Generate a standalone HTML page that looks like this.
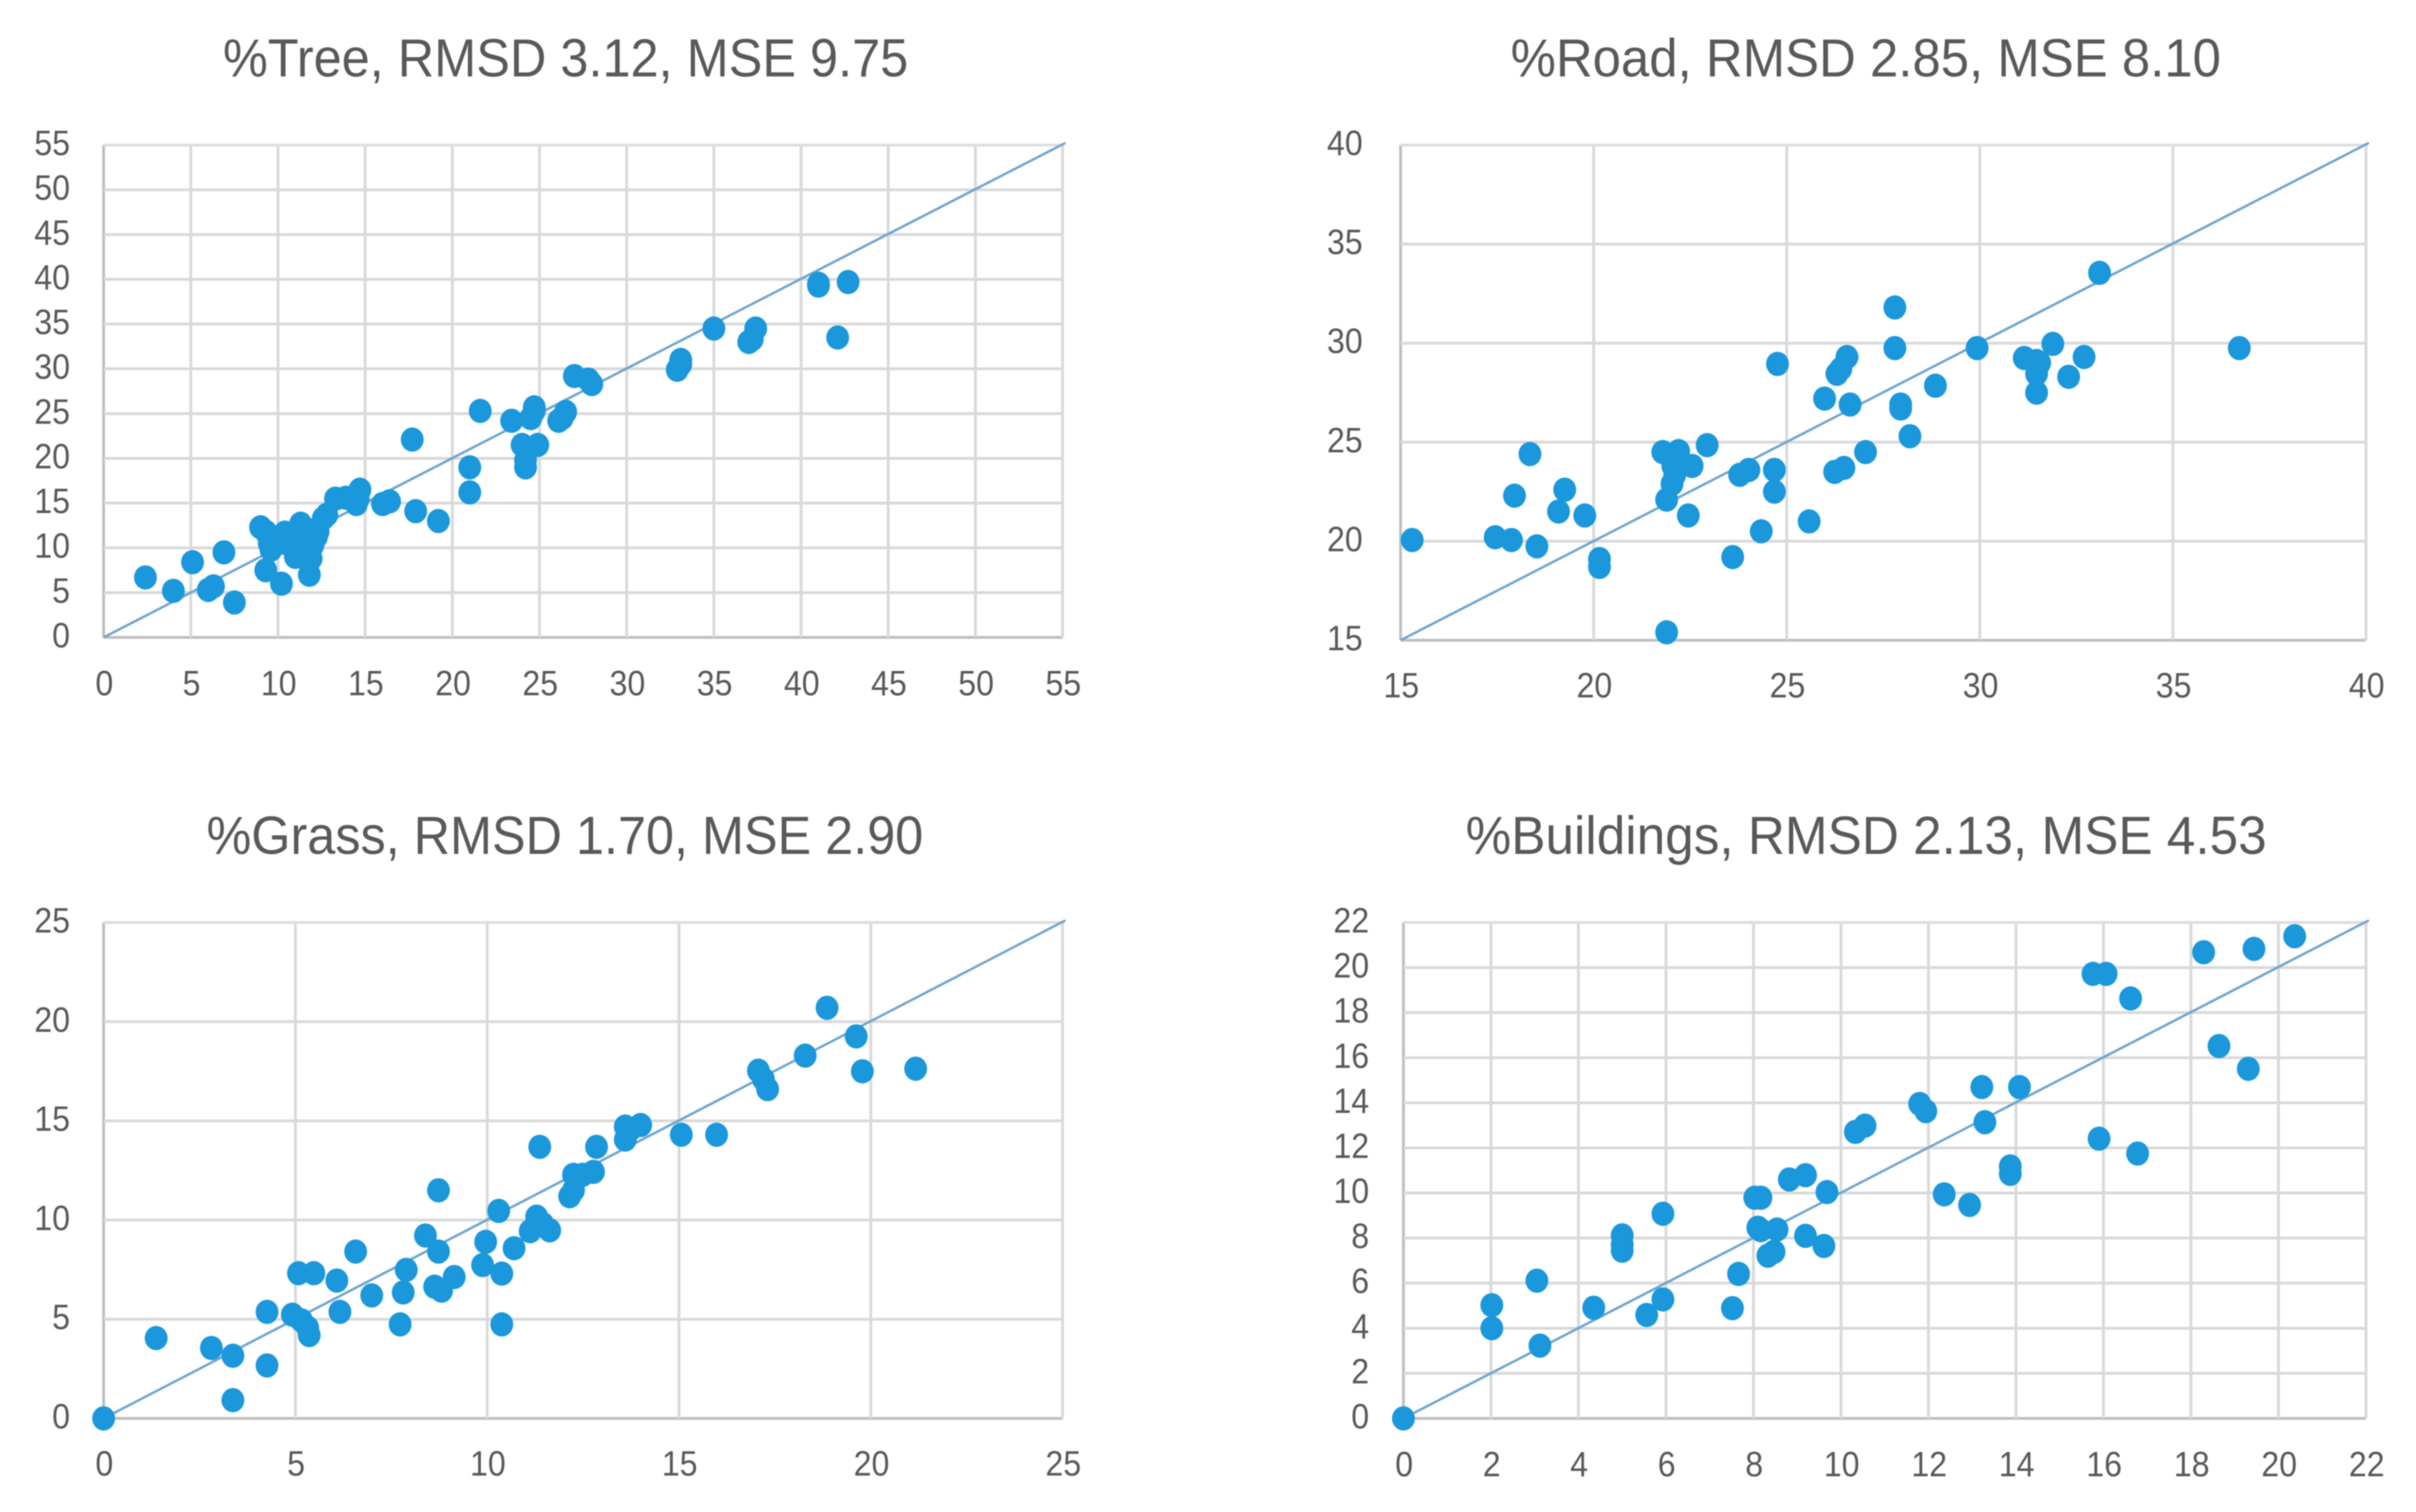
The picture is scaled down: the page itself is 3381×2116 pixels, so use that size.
<!DOCTYPE html>
<html lang="en">
<head>
<meta charset="utf-8">
<title>Scatter charts</title>
<style>
html,body{margin:0;padding:0;background:#fff;width:3381px;height:2116px;overflow:hidden}
svg{display:block;filter:blur(0.9px)}
text{font-family:"Liberation Sans",Arial,sans-serif;fill:#595959}
</style>
</head>
<body>
<svg id="figure" xmlns="http://www.w3.org/2000/svg" width="3381" height="2116" viewBox="0 0 3381 2116">
<rect x="0" y="0" width="3381" height="2116" fill="#ffffff"/>
</svg>
<script>
const treeTicks = [0,5,10,15,20,25,30,35,40,45,50,55];
const roadTicks = [15,20,25,30,35,40];
const grassTicks = [0,5,10,15,20,25];
const buildingsTicks = [0,2,4,6,8,10,12,14,16,18,20,22];

const treeX = [2.4,4,5.1,6,6.3,6.9,7.5,9,9.3,9.5,9.3,9.6,9.7,10.2,10.4,10.5,10.8,11,11.2,11.3,11.8,11.9,11.7,12,12.2,12.3,12.6,12.8,13.3,13.9,14.5,14.6,14.7,16,16.4,17.9,17.7,19.2,21,21,21.6,23.4,24,24.2,24.2,24.9,24.5,24.7,24.7,26.1,26.3,26.5,27,27.8,28,32.9,33.1,33.1,35,37,37.2,37.4,41,41,42.1,42.7];
const treeY = [6.7,5.2,8.4,5.3,5.7,9.5,3.9,12.3,11.8,10.5,7.5,9.8,11.2,6,11.7,10.5,10.2,9,11,12.7,7,8.8,12,10.3,11.2,11.8,13.3,13.7,15.5,15.6,14.9,15.5,16.5,14.9,15.2,14.1,22.1,13,19,16.2,25.3,24.2,21.5,19.8,19,21.5,24.5,25.3,25.7,24.2,24.5,25.2,29.2,28.8,28.3,29.9,30.5,31,34.5,33,33.3,34.5,39.5,39.3,33.5,39.7];

const roadX = [15.3,17.45,17.87,18.53,18.35,17.95,19.25,19.09,19.77,20.15,20.15,21.89,21.79,22.2,22.05,22.1,22.03,21.89,22.55,22.45,22.94,23.78,24.02,23.6,24.34,24.68,24.68,24.76,25.58,25.98,26.24,26.48,26.3,26.4,26.56,26.64,27.04,27.8,27.8,27.95,27.95,28.19,28.85,29.93,31.15,31.47,31.55,31.47,31.47,31.89,32.3,32.7,33.1,36.72];
const roadY = [20.06,20.2,20.06,19.74,24.4,22.3,22.6,21.5,21.3,19.1,18.7,15.4,24.5,24.55,23.8,23.35,22.9,22.1,23.8,21.3,24.85,23.35,23.6,19.2,20.5,23.6,22.5,28.95,21,27.2,23.5,23.7,28.45,28.7,29.3,26.9,24.5,31.8,29.75,26.9,26.7,25.3,27.85,29.75,29.25,29.1,29,28.45,27.5,29.96,28.3,29.3,33.55,29.75];

const grassX = [0,1.37,2.81,3.37,3.37,4.26,4.26,4.92,5.16,5.32,5.36,5.08,5.48,6.08,6.16,6.57,6.99,7.73,7.81,7.89,8.39,8.63,8.73,8.73,8.81,9.14,9.88,9.96,10.3,10.38,10.38,10.7,11.12,11.29,11.37,11.45,11.63,12.15,12.25,12.25,12.49,12.77,12.85,13.6,13.6,13.75,14,15.06,15.98,17.07,17.2,17.31,18.29,18.86,19.62,19.78,21.17];
const grassY = [0,4.05,3.55,3.16,0.92,5.37,2.67,5.23,4.94,4.57,4.2,7.32,7.32,6.95,5.37,8.41,6.2,4.74,6.35,7.49,9.22,6.64,11.5,8.41,6.44,7.13,7.73,8.9,10.46,7.3,4.74,8.58,9.44,10.17,13.69,9.8,9.48,11.2,11.5,12.28,12.28,12.43,13.69,14.06,14.71,14.6,14.79,14.3,14.3,17.53,17.1,16.6,18.29,20.7,19.26,17.5,17.63];

const buildingsX = [0,2.02,2.02,3.12,3.05,4.35,5,5,5,5.56,5.93,5.93,7.52,7.66,8.03,8.17,8.1,8.17,8.54,8.33,8.47,8.82,9.19,9.19,9.61,9.68,10.33,10.55,11.8,11.94,12.36,12.94,13.22,13.29,13.87,13.87,14.08,15.76,16.06,15.9,16.62,16.78,18.29,18.64,19.31,19.44,20.37];
const buildingsY = [0,5.02,4,3.23,6.11,4.91,8.12,7.71,7.44,4.59,9.08,5.28,4.89,6.41,9.79,9.79,8.46,8.35,8.38,7.22,7.39,10.6,10.79,8.1,7.65,10.04,12.71,12.99,13.95,13.63,9.94,9.47,14.7,13.14,11.18,10.85,14.7,19.72,19.72,12.41,18.63,11.75,20.68,16.52,15.51,20.83,21.39];

const NS = 'http://www.w3.org/2000/svg';
const figure = document.getElementById('figure');

function make(tag, attrs, parent) {
  const el = document.createElementNS(NS, tag);
  for (const k in attrs) el.setAttribute(k, attrs[k]);
  parent.appendChild(el);
  return el;
}

function drawChart(c) {
  const g = make('g', {}, figure);
  
  

  const min = c.ticks[0];
  const max = c.ticks[c.ticks.length - 1];
  const sx = v => c.left + (v - min) / (max - min) * (c.right - c.left);
  const sy = v => c.bottom - (v - min) / (max - min) * (c.bottom - c.top);

  const title = make('text', {x: c.titleX, y: c.titleY, 'font-size': 75, textLength: c.titleW, lengthAdjust: 'spacingAndGlyphs'}, g);
  title.textContent = c.title;
  
  

  c.ticks.forEach((t, i) => {
    const edge = i === 0;
    const last = i === c.ticks.length - 1;
    const vline = make('line', {x1: sx(t), x2: sx(t), y1: c.top, y2: c.bottom, stroke: edge ? '#bfbfbf' : '#d9d9d9', 'stroke-width': 4}, g);
    
    
    const hline = make('line', {x1: c.left, x2: c.right, y1: sy(t), y2: sy(t), stroke: edge ? '#bfbfbf' : (last ? '#dedede' : '#d9d9d9'), 'stroke-width': 4}, g);
    
    

    const s = String(t);
    const w = s.length * 25;
    const xLabel = make('text', {x: sx(t) - w / 2 + 1, y: c.xLabelY, 'font-size': 49, textLength: w, lengthAdjust: 'spacingAndGlyphs'}, g);
    xLabel.textContent = s;
    
    
    const yLabel = make('text', {x: c.left - c.labelGap - w, y: sy(t) + 14, 'font-size': 49, textLength: w, lengthAdjust: 'spacingAndGlyphs'}, g);
    yLabel.textContent = s;
    
    
  });

  const ref = make('line', {x1: sx(min), y1: sy(min), x2: sx(max) + 4, y2: sy(max) - 3, stroke: '#6fa5cf', 'stroke-width': 3.4}, g);
  
  

  c.xs.forEach((x, i) => {
    const pt = make('ellipse', {cx: sx(x), cy: sy(c.ys[i]), rx: 16, ry: 17, fill: '#1b97db'}, g);
    
    
  });
}

drawChart({slug:'tree', title:'%Tree, RMSD 3.12, MSE 9.75', ticks:treeTicks, xs:treeX, ys:treeY, left:145, right:1487, top:203, bottom:892, titleX:312, titleW:959, titleY:107, xLabelY:973, labelGap:47});
drawChart({slug:'road', title:'%Road, RMSD 2.85, MSE 8.10', ticks:roadTicks, xs:roadX, ys:roadY, left:1960, right:3311, top:203, bottom:896, titleX:2114, titleW:994, titleY:107, xLabelY:976, labelGap:53});
drawChart({slug:'grass', title:'%Grass, RMSD 1.70, MSE 2.90', ticks:grassTicks, xs:grassX, ys:grassY, left:145, right:1487, top:1291, bottom:1985, titleX:289, titleW:1003, titleY:1195, xLabelY:2065, labelGap:47});
drawChart({slug:'buildings', title:'%Buildings, RMSD 2.13, MSE 4.53', ticks:buildingsTicks, xs:buildingsX, ys:buildingsY, left:1964, right:3311, top:1291, bottom:1985, titleX:2051, titleW:1121, titleY:1195, xLabelY:2066, labelGap:48});
</script>
</body>
</html>
